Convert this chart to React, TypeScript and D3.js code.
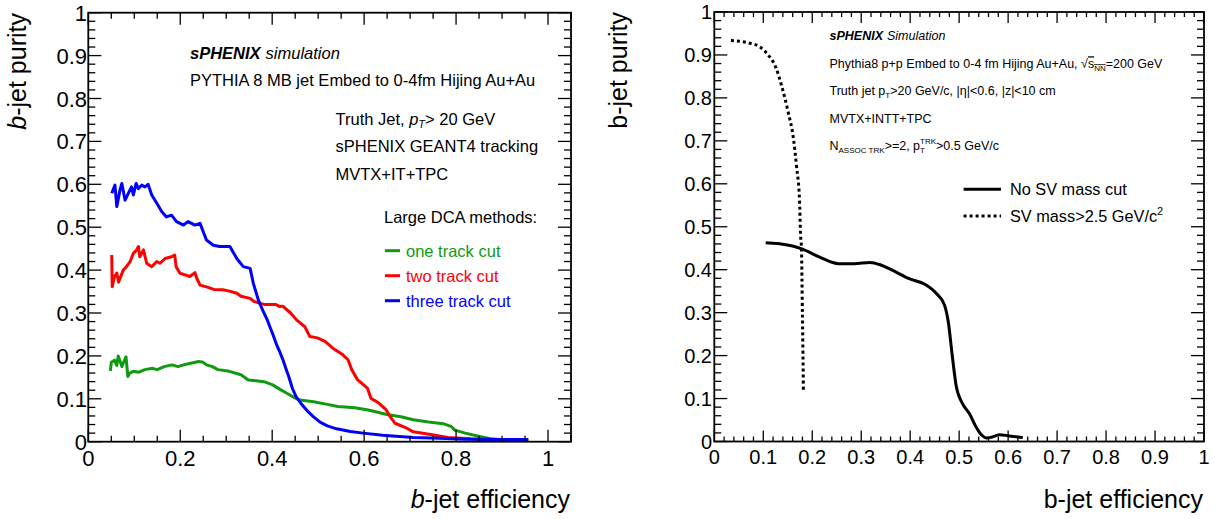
import React, { useEffect } from 'react';
import * as d3 from 'd3';

// ---------- data ----------
const yTickValues = [0, 0.1, 0.2, 0.3, 0.4, 0.5, 0.6, 0.7, 0.8, 0.9, 1];
const yTickLabels = ['0', '0.1', '0.2', '0.3', '0.4', '0.5', '0.6', '0.7', '0.8', '0.9', '1'];
const leftXTickValues = [0, 0.2, 0.4, 0.6, 0.8, 1];
const leftXTickLabels = ['0', '0.2', '0.4', '0.6', '0.8', '1'];
const rightXTickValues = [0, 0.1, 0.2, 0.3, 0.4, 0.5, 0.6, 0.7, 0.8, 0.9, 1];
const rightXTickLabels = ['0', '0.1', '0.2', '0.3', '0.4', '0.5', '0.6', '0.7', '0.8', '0.9', '1'];

const leftLegendLabels = ['one track cut', 'two track cut', 'three track cut'];
const leftLegendColors = ['#0f9a0f', '#ff0000', '#0000ff'];

// [b-jet efficiency, b-jet purity]
const oneTrack: [number, number][] = [
  [0.048, 0.165], [0.050, 0.185], [0.057, 0.190], [0.062, 0.178], [0.065, 0.200], [0.070, 0.185],
  [0.073, 0.175], [0.078, 0.188], [0.082, 0.198], [0.086, 0.152], [0.090, 0.160], [0.098, 0.164],
  [0.110, 0.162], [0.123, 0.168], [0.140, 0.171], [0.150, 0.168], [0.165, 0.175], [0.182, 0.179],
  [0.195, 0.175], [0.207, 0.179], [0.223, 0.183], [0.240, 0.187], [0.250, 0.185], [0.257, 0.179],
  [0.270, 0.175], [0.282, 0.168], [0.307, 0.164], [0.332, 0.156], [0.348, 0.144], [0.365, 0.142],
  [0.382, 0.140], [0.400, 0.133], [0.417, 0.122], [0.432, 0.113], [0.446, 0.104], [0.460, 0.097],
  [0.490, 0.093], [0.520, 0.087], [0.543, 0.082], [0.580, 0.079], [0.609, 0.074], [0.652, 0.063],
  [0.680, 0.058], [0.707, 0.051], [0.740, 0.046], [0.772, 0.042], [0.790, 0.035], [0.797, 0.027],
  [0.820, 0.020], [0.851, 0.012], [0.875, 0.007], [0.895, 0.005], [0.957, 0.004],
];

const twoTrack: [number, number][] = [
  [0.051, 0.435], [0.052, 0.361], [0.057, 0.385], [0.062, 0.393], [0.066, 0.372], [0.069, 0.381],
  [0.076, 0.400], [0.083, 0.408], [0.091, 0.420], [0.098, 0.439], [0.105, 0.447], [0.109, 0.455],
  [0.112, 0.431], [0.120, 0.447], [0.127, 0.416], [0.138, 0.408], [0.149, 0.420], [0.156, 0.416],
  [0.167, 0.427], [0.181, 0.431], [0.188, 0.435], [0.191, 0.408], [0.199, 0.393], [0.221, 0.385],
  [0.232, 0.394], [0.236, 0.381], [0.243, 0.365], [0.257, 0.361], [0.273, 0.355], [0.293, 0.354],
  [0.307, 0.351], [0.323, 0.346], [0.332, 0.339], [0.352, 0.334], [0.360, 0.327], [0.382, 0.320],
  [0.407, 0.320], [0.417, 0.315], [0.423, 0.316], [0.440, 0.300], [0.453, 0.284], [0.471, 0.268],
  [0.482, 0.245], [0.498, 0.242], [0.515, 0.234], [0.532, 0.218], [0.553, 0.203], [0.565, 0.191],
  [0.573, 0.168], [0.586, 0.144], [0.607, 0.125], [0.615, 0.101], [0.632, 0.090], [0.648, 0.074],
  [0.657, 0.058], [0.667, 0.043], [0.690, 0.033], [0.707, 0.023], [0.748, 0.016], [0.782, 0.010],
  [0.832, 0.007], [0.890, 0.005], [0.957, 0.005],
];

const threeTrack: [number, number][] = [
  [0.051, 0.579], [0.058, 0.598], [0.062, 0.548], [0.069, 0.587], [0.073, 0.602], [0.080, 0.563],
  [0.087, 0.579], [0.094, 0.594], [0.098, 0.575], [0.104, 0.602], [0.109, 0.590], [0.116, 0.598],
  [0.123, 0.594], [0.130, 0.600], [0.138, 0.575], [0.149, 0.556], [0.160, 0.536], [0.170, 0.524],
  [0.181, 0.528], [0.192, 0.513], [0.207, 0.505], [0.217, 0.513], [0.232, 0.505], [0.243, 0.509],
  [0.257, 0.470], [0.272, 0.458], [0.286, 0.455], [0.308, 0.455], [0.323, 0.427], [0.337, 0.408],
  [0.352, 0.404], [0.359, 0.369], [0.370, 0.330], [0.380, 0.305], [0.390, 0.282], [0.397, 0.262],
  [0.403, 0.246], [0.410, 0.225], [0.417, 0.208], [0.423, 0.192], [0.430, 0.170], [0.436, 0.152],
  [0.444, 0.124], [0.452, 0.105], [0.465, 0.086], [0.478, 0.070], [0.490, 0.058], [0.505, 0.045],
  [0.520, 0.037], [0.540, 0.030], [0.570, 0.024], [0.598, 0.020], [0.640, 0.015], [0.707, 0.010],
  [0.765, 0.008], [0.820, 0.006], [0.880, 0.005], [0.957, 0.005],
];

const noMassCut: [number, number][] = [
  [0.105, 0.463], [0.130, 0.461], [0.160, 0.455], [0.180, 0.448], [0.214, 0.430], [0.254, 0.414],
  [0.286, 0.414], [0.318, 0.417], [0.340, 0.411], [0.358, 0.402], [0.398, 0.379], [0.430, 0.366],
  [0.454, 0.344], [0.470, 0.318], [0.478, 0.277], [0.486, 0.199], [0.494, 0.129], [0.506, 0.090],
  [0.522, 0.063], [0.534, 0.035], [0.546, 0.015], [0.556, 0.008], [0.566, 0.010], [0.582, 0.016],
  [0.602, 0.013], [0.630, 0.009],
];

const massCut: [number, number][] = [
  [0.034, 0.934], [0.050, 0.932], [0.070, 0.928], [0.094, 0.918], [0.110, 0.900], [0.126, 0.870],
  [0.138, 0.826], [0.150, 0.771], [0.162, 0.702], [0.168, 0.640], [0.174, 0.562], [0.176, 0.484],
  [0.178, 0.449], [0.180, 0.293], [0.182, 0.117],
];

// ---------- layout ----------
const W = 1215;
const H = 519;
const FONT = "'Liberation Sans', Arial, Helvetica, sans-serif";

const lx = d3.scaleLinear().domain([0, 1.05]).range([88.3, 571]);
const ly = d3.scaleLinear().domain([0, 1]).range([441.7, 12.7]);
const rx = d3.scaleLinear().domain([0, 1]).range([714.3, 1204]);
const ry = d3.scaleLinear().domain([0, 1]).range([441.5, 12]);

type Scale = d3.ScaleLinear<number, number>;

function Frame({ x, y, xMajor, xMinorStep, yMinorStep, xLen, yLen }: {
  x: Scale; y: Scale; xMajor: number[]; xMinorStep: number; yMinorStep: number;
  xLen: [number, number]; yLen: [number, number];
}) {
  const [x0, x1] = x.range();
  const [y0, y1] = y.range();
  const xd = x.domain();
  const xMinor = d3.range(0, xd[1] + 1e-9, xMinorStep);
  const yMinor = d3.range(0, 1 + 1e-9, yMinorStep);
  const isMajor = (v: number, arr: number[]) => arr.some((m) => Math.abs(m - v) < 1e-6);
  const lines: JSX.Element[] = [];
  xMinor.forEach((v, i) => {
    const L = isMajor(v, xMajor) ? xLen[0] : xLen[1];
    const px = x(v);
    lines.push(<line key={'xb' + i} x1={px} x2={px} y1={y0} y2={y0 - L} />);
    lines.push(<line key={'xt' + i} x1={px} x2={px} y1={y1} y2={y1 + L} />);
  });
  yMinor.forEach((v, i) => {
    const L = isMajor(v, yTickValues) ? yLen[0] : yLen[1];
    const py = y(v);
    lines.push(<line key={'yl' + i} x1={x0} x2={x0 + L} y1={py} y2={py} />);
    lines.push(<line key={'yr' + i} x1={x1} x2={x1 - L} y1={py} y2={py} />);
  });
  return (
    <g stroke="#000" strokeWidth={1.3} fill="none">
      {lines}
      <rect x={x0} y={y1} width={x1 - x0} height={y0 - y1} strokeWidth={1.8} />
    </g>
  );
}

export default function App() {
  useEffect(() => {
    document.body.style.margin = '0';
  }, []);

  const leftLine = d3.line<[number, number]>().x((d) => lx(d[0])).y((d) => ly(d[1]));
  const rightLine = d3
    .line<[number, number]>()
    .x((d) => rx(d[0]))
    .y((d) => ry(d[1]))
    .curve(d3.curveMonotoneX);

  const leftSeries = [oneTrack, twoTrack, threeTrack];

  return (
    <svg width={W} height={H} style={{ display: 'block', background: '#fff' }} fontFamily={FONT}>
      <rect x={0} y={0} width={W} height={H} fill="#fff" />

      {/* ---------------- LEFT PANEL ---------------- */}
      {leftSeries.map((s, i) => (
        <path key={'ls' + i} d={leftLine(s) || ''} fill="none" stroke={leftLegendColors[i]}
          strokeWidth={3} strokeLinejoin="round" strokeLinecap="butt" />
      ))}
      <Frame x={lx} y={ly} xMajor={leftXTickValues} xMinorStep={0.05} yMinorStep={0.02}
        xLen={[12, 6]} yLen={[13, 7]} />
      {leftXTickValues.map((v, i) => (
        <text key={'lxl' + i} x={lx(v)} y={466} fontSize={22} textAnchor="middle">{leftXTickLabels[i]}</text>
      ))}
      {yTickValues.map((v, i) => (
        <text key={'lyl' + i} x={87} y={ly(v) + 8} fontSize={22} textAnchor="end">{yTickLabels[i]}</text>
      ))}
      <text x={570} y={508} fontSize={25} textAnchor="end">
        <tspan fontStyle="italic">b</tspan>-jet efficiency
      </text>
      <text transform="translate(26,13) rotate(-90)" fontSize={25} textAnchor="end">
        <tspan fontStyle="italic">b</tspan>-jet purity
      </text>

      <g fontSize={16.5} fill="#000">
        <text x={190} y={59.3}>
          <tspan fontWeight="bold" fontStyle="italic">sPHENIX</tspan>
          <tspan fontStyle="italic" dx={5}>simulation</tspan>
        </text>
        <text x={190} y={86}>PYTHIA 8 MB jet Embed to 0-4fm Hijing Au+Au</text>
        <text x={335.5} y={125}>
          Truth Jet, <tspan fontStyle="italic">p</tspan>
          <tspan fontStyle="italic" fontSize={11} dy={3}>T</tspan>
          <tspan dy={-3}>&gt; 20 GeV</tspan>
        </text>
        <text x={335.5} y={151.7}>sPHENIX GEANT4 tracking</text>
        <text x={335.5} y={180}>MVTX+IT+TPC</text>
        <text x={384} y={223.3}>Large DCA methods:</text>
        {leftLegendLabels.map((lab, i) => (
          <g key={'lg' + i}>
            <line x1={385} x2={400} y1={250.7 + i * 25} y2={250.7 + i * 25}
              stroke={leftLegendColors[i]} strokeWidth={3} />
            <text x={406} y={256.5 + i * 25} fill={leftLegendColors[i]}>{lab}</text>
          </g>
        ))}
      </g>

      {/* ---------------- RIGHT PANEL ---------------- */}
      <path d={rightLine(noMassCut) || ''} fill="none" stroke="#000" strokeWidth={3} strokeLinejoin="round" />
      <path d={rightLine(massCut) || ''} fill="none" stroke="#000" strokeWidth={3} strokeDasharray="3 3" />
      <Frame x={rx} y={ry} xMajor={rightXTickValues} xMinorStep={0.02} yMinorStep={0.02}
        xLen={[11, 5]} yLen={[13, 7]} />
      {rightXTickValues.map((v, i) => (
        <text key={'rxl' + i} x={rx(v)} y={464} fontSize={20} textAnchor="middle">{rightXTickLabels[i]}</text>
      ))}
      {yTickValues.map((v, i) => (
        <text key={'ryl' + i} x={712} y={ry(v) + 7.3} fontSize={20} textAnchor="end">{yTickLabels[i]}</text>
      ))}
      <text x={1203} y={508} fontSize={25} textAnchor="end">b-jet efficiency</text>
      <text transform="translate(627,12) rotate(-90)" fontSize={25} textAnchor="end">b-jet purity</text>

      <g fontSize={12.5} fill="#000">
        <text x={829.5} y={40}>
          <tspan fontWeight="bold" fontStyle="italic">sPHENIX</tspan>
          <tspan fontStyle="italic" dx={4}>Simulation</tspan>
        </text>
        <text x={829.5} y={68.3}>
          Phythia8 p+p Embed to 0-4 fm Hijing Au+Au, √<tspan style={{ textDecoration: 'overline' }}>s<tspan fontSize={8} dy={3}>NN</tspan></tspan>
          <tspan dy={-3}>=200 GeV</tspan>
        </text>
        <text x={829.5} y={95}>
          Truth jet p<tspan fontSize={8} dy={3}>T</tspan><tspan dy={-3}>&gt;20 GeV/c, |η|&lt;0.6, |z|&lt;10 cm</tspan>
        </text>
        <text x={829.5} y={123.3}>MVTX+INTT+TPC</text>
        <text x={829.5} y={150}>
          N<tspan fontSize={8} dy={3}>ASSOC TRK</tspan>
          <tspan dy={-3}>&gt;=2, p</tspan>
          <tspan fontSize={8} dy={3}>T</tspan>
          <tspan fontSize={8} dx={-4.9} dy={-9}>TRK</tspan>
          <tspan dy={6}>&gt;0.5 GeV/c</tspan>
        </text>
      </g>
      <g fontSize={16.3}>
        <line x1={963.6} x2={1001} y1={189.3} y2={189.3} stroke="#000" strokeWidth={3} />
        <text x={1010} y={195}>No SV mass cut</text>
        <line x1={963.6} x2={1001} y1={216} y2={216} stroke="#000" strokeWidth={3} strokeDasharray="3 3" />
        <text x={1010} y={221.7}>
          SV mass&gt;2.5 GeV/c<tspan fontSize={11} dy={-7}>2</tspan>
        </text>
      </g>
    </svg>
  );
}
